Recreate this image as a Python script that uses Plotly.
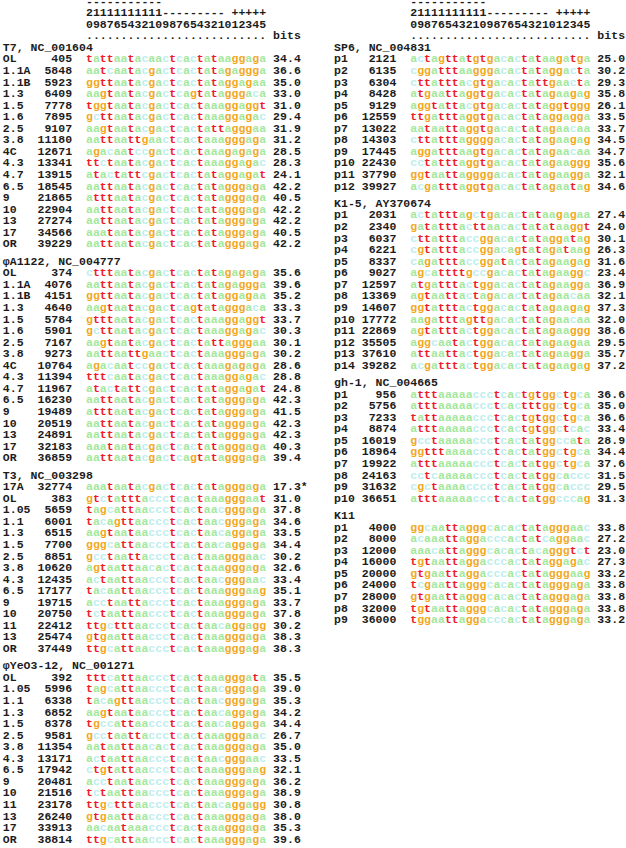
import plotly.graph_objects as go

# ---------------- data ----------------
HEAD_DASH = "-----------"
HEAD_TENS = "21111111111--------- +++++"
HEAD_ONES = "09876543210987654321012345"
HEAD_BITS = ".......................... bits"

T7_title = "T7, NC_001604"
T7_names = ["OL", "1.1A", "1.1B", "1.3", "1.5", "1.6", "2.5", "3.8", "4C", "4.3", "4.7", "6.5", "9", "10", "13", "17", "OR"]
T7_pos = [405, 5848, 5923, 6409, 7778, 7895, 9107, 11180, 12671, 13341, 13915, 18545, 21865, 22904, 27274, 34566, 39229]
T7_bits = [34.4, 36.6, 35.0, 33.0, 31.0, 29.4, 31.9, 31.2, 28.5, 28.3, 24.1, 42.2, 40.5, 42.2, 42.2, 40.5, 42.2]
T7_seqs = [
    "tattaatacaactcactataaggaga", "aatcaatacgactcactatagaggga", "ggttaatacgactcactataggagaa",
    "aagtaatacgactcagtatagggaca", "tggtaatacgactcactaaaggaggt", "gcttaatacgactcactaaaggagac",
    "aagtaatacgactcactattagggaa", "aattaattgaactcactaaagggaga", "agacaatccgactcactaaagagaga",
    "ttctaatacgactcactaaaggagac", "atactattcgactcactataggagat", "aattaatacgactcactatagggaga",
    "atttaatacgactcactatagggaga", "aattaatacgactcactatagggaga", "aattaatacgactcactatagggaga",
    "aaataatacgactcactatagggaga", "aattaatacgactcactatagggaga"]

PA_title = "φA1122, NC_004777"
PA_names = ["OL", "1.1A", "1.1B", "1.3", "1.5", "1.6", "2.5", "3.8", "4C", "4.3", "4.7", "6.5", "9", "10", "13", "17", "OR"]
PA_pos = [374, 4076, 4151, 4640, 5784, 5901, 7167, 9273, 10764, 11394, 11967, 16230, 19489, 20519, 24891, 32183, 36859]
PA_bits = [35.6, 39.6, 35.2, 33.3, 33.7, 30.3, 30.1, 30.2, 28.6, 28.8, 24.8, 42.3, 41.5, 42.3, 42.3, 40.3, 39.4]
PA_seqs = [
    "ctttaatacgactcactatagagaga", "aattaatacgactcactatagaggga", "ggttaatacgactcactataggagaa",
    "aagtaatacgactcagtatagggaca", "gtttaatacgactcactaaaggaggt", "gcttaatacgactcactaaaggagac",
    "aagtaatacgactcactattagggaa", "aattaattgaactcactaaagggaga", "agacaatccgactcactaaagagaga",
    "tttcaatacgactcactaaaggagac", "atactattcgactcactataggagat", "aattaatacgactcactatagggaga",
    "atttaatacgactcactatagggaga", "aattaatacgactcactatagggaga", "aattaatacgactcactatagggaga",
    "aaataatacgactcactatagggaga", "aattaatacgactcagtatagggaga"]

T3_title = "T3, NC_003298"
T3_names = ["17A", "OL", "1.05", "1.1", "1.3", "1.5", "2.5", "3.8", "4.3", "6.5", "9", "10", "11", "13", "OR"]
T3_pos = [32774, 383, 5659, 6001, 6515, 7700, 8851, 10620, 12435, 17177, 19715, 20750, 22412, 25474, 37449]
T3_bits = [17.3, 31.0, 37.8, 34.6, 33.5, 34.4, 30.2, 32.6, 33.4, 35.1, 33.7, 37.8, 30.2, 38.3, 38.3]
T3_notes = ["*", "", "", "", "", "", "", "", "", "", "", "", "", "", ""]
T3_seqs = [
    "aaataatacgactcactatagggaga", "gtctatttaccctcactaaagggaat", "tagcattaaccctcactaacgggaga",
    "tacagttaaccctcactaacgggaga", "aagtaataaccctcactaacaggaga", "gggcattaaccctcactaacaggaga",
    "gcctaattaccctcactaaagggaac", "agtaattaacactcactaaagggaga", "actaattaaccctcactaacgggaac",
    "tacaattaaccctcactaaagggaag", "acctaattaccctcactaaagggaga", "tctaattaaccctcactaaagggaga",
    "ttgctttaaccctcactaacaggagg", "gtgaattaaccctcactaaagggaga", "ttgcattaaccctcactaaagggaga"]

YE_title = "φYeO3-12, NC_001271"
YE_names = ["OL", "1.05", "1.1", "1.3", "1.5", "2.5", "3.8", "4.3", "6.5", "9", "10", "11", "13", "17", "OR"]
YE_pos = [392, 5996, 6338, 6852, 8378, 9581, 11354, 13171, 17942, 20481, 21516, 23178, 26240, 33913, 38814]
YE_bits = [35.5, 39.0, 35.3, 34.2, 34.4, 26.7, 35.0, 33.5, 32.1, 36.2, 38.9, 30.8, 38.0, 35.3, 39.6]
YE_seqs = [
    "tttcattaaccctcactaaagggata", "tagcattaaccctcactaacgggaga", "tacagttaaccctcactaacgggaga",
    "aagtaataaccctcactaacaggaga", "tgccattaaccctcactaacaggaga", "gcctaattaccctcactaaagggaac",
    "aataattaacactcactaaagggaga", "actaattaaccctcactaacgggaac", "ctgtattaaccctcactaaagggaag",
    "acctaataaccctcactaaagggaga", "tctaattaaccctcactaaagggaga", "ttgctttaaccctcactaacaggagg",
    "gtgaattaaccctcactaaagggaga", "aacaataaaccctcactaaagggaga", "ttgcattaaccctcactaaagggaga"]

SP6_title = "SP6, NC_004831"
SP6_names = ["p1", "p2", "p3", "p4", "p5", "p6", "p7", "p8", "p9", "p10", "p11", "p12"]
SP6_pos = [2121, 6135, 6304, 8428, 9129, 12559, 13022, 14303, 17445, 22430, 37790, 39927]
SP6_bits = [25.0, 30.2, 29.3, 35.8, 26.1, 33.5, 33.7, 34.5, 34.7, 35.6, 32.1, 34.6]
SP6_seqs = [
    "actagttatgtgacactataagatga", "cggatttaagggacactataggacta", "cttatttacgtgacactattgaacta",
    "atgaattaggtgacactatagaagag", "aggtattacgtgacactataggtggg", "ttgatttaggtgacactataggagga",
    "aataattaggtgacactatagaacaa", "cttatttaggggacactatagaagag", "aggatttaagtgacactatagaacaa",
    "cctatttaggtgacactatagaaggg", "ggtaattaggggacactatagaagga", "acgatttaggtgacactatagaatag"]

K15_title = "K1-5, AY370674"
K15_names = ["p1", "p2", "p3", "p4", "p5", "p6", "p7", "p8", "p9", "p10", "p11", "p12", "p13", "p14"]
K15_pos = [2031, 2340, 6037, 6221, 8337, 9027, 12597, 13369, 14607, 17772, 22869, 35505, 37610, 39282]
K15_bits = [27.4, 24.0, 30.1, 26.3, 31.6, 23.4, 36.9, 32.1, 37.3, 32.0, 38.6, 29.5, 35.7, 37.2]
K15_seqs = [
    "actatttagctgacactataagagaa", "gatatttacttaacactatataaggt", "cttatttaccggacactataggatag",
    "cgtatttaccggacagtatagataag", "cagatttaccggatactatagaagag", "agcattttgccgacactatagaaggc",
    "atgatttactggacactatagaagga", "agtaattactagacactatagaacaa", "ggtatttactggacactatagaagag",
    "aagatttagttgacactatagaacaa", "agtatttactggacactatagaaggg", "aggcaatactggacactatagaagaa",
    "attaattactggacactatagaagga", "acgatttactggacactatagaagag"]

GH_title = "gh-1, NC_004665"
GH_names = ["p1", "p2", "p3", "p4", "p5", "p6", "p7", "p8", "p9", "p10"]
GH_pos = [956, 5756, 7233, 8874, 16019, 18964, 19922, 24163, 31632, 36651]
GH_bits = [36.6, 35.0, 36.6, 33.4, 28.9, 34.4, 37.6, 31.5, 29.5, 31.3]
GH_seqs = [
    "atttaaaaaccctcactgtggctgca", "atttaaaaaccctcactttggctgca", "tattaaaaaccctcactgtggctgca",
    "atttaaaaaccctcactgtggctcac", "gcctaaaaaccctcactatggccata", "ggtttaaaaccctcactatggctgca",
    "atttaaaaaccctcactatggctgca", "cctcaaaaaccctcactatggcaccc", "cgctaaaacccctcactatggcaccc",
    "atttaaaaaccctcactatggcccag"]

K11_title = "K11"
K11_names = ["p1", "p2", "p3", "p4", "p5", "p6", "p7", "p8", "p9"]
K11_pos = [4000, 8000, 12000, 16000, 20000, 24000, 28000, 32000, 36000]
K11_bits = [33.8, 27.2, 23.0, 27.3, 33.2, 33.8, 33.8, 33.8, 33.2]
K11_seqs = [
    "ggcaattagggcacactatagggaac", "acaaattaggacccactatcaggaac", "aaacattagggcacactacagggtct",
    "tgtaattaggacccactataggagac", "gtgaattaggacccactatagggaag", "tcgaattagggcacactatagggaga",
    "gtgaattagggcacactatagggaga", "tgtaattagggcacactatagggaga", "tggaattaggacccactatagggaga"]

# ---------------- styling / layout ----------------
W, H = 626, 848
CW = 6.93      # px per character column
LH = 11.56     # px per text line
X0 = 2.8       # px: left edge of column 0
Y0 = 48.0      # px: centre of line 0
RIGHT_OFF = (334.0 - X0) / CW
FONT = "Liberation Mono, Courier New, monospace"
FSIZE = 11.5
INK = "#1c1c1c"
BASE_COLORS = {"a": "#a3e89b", "c": "#bdeeee", "g": "#f2a81d", "t": "#ee1b2b"}
BLOCK_GAP = 1.5
HEAD_LINES = [(HEAD_DASH, -4.0), (HEAD_TENS, -3.0), (HEAD_ONES, -2.0), (HEAD_BITS, -1.0)]

columns = [
    dict(off=0.0, num_end=10, seq=12, bits=39,
         blocks=[(T7_title, T7_names, T7_pos, T7_seqs, T7_bits, None),
                 (PA_title, PA_names, PA_pos, PA_seqs, PA_bits, None),
                 (T3_title, T3_names, T3_pos, T3_seqs, T3_bits, T3_notes),
                 (YE_title, YE_names, YE_pos, YE_seqs, YE_bits, None)]),
    dict(off=RIGHT_OFF, num_end=9, seq=11, bits=38,
         blocks=[(SP6_title, SP6_names, SP6_pos, SP6_seqs, SP6_bits, None),
                 (K15_title, K15_names, K15_pos, K15_seqs, K15_bits, None),
                 (GH_title, GH_names, GH_pos, GH_seqs, GH_bits, None),
                 (K11_title, K11_names, K11_pos, K11_seqs, K11_bits, None)]),
]

pts = {k: ([], [], []) for k in ["ink", "a", "c", "g", "t"]}


def put(text, col, line, by_base=False):
    for i, ch in enumerate(text):
        if ch == " ":
            continue
        key = ch if (by_base and ch in BASE_COLORS) else "ink"
        xs, ys, ts = pts[key]
        xs.append(col + i + 0.5)
        ys.append(line)
        ts.append(ch)


for c in columns:
    o = c["off"]
    s = o + c["seq"]
    for htext, hline in HEAD_LINES:
        put(htext, s, hline)
    line = 0.0
    for bi, (title, names, pos, seqs, bits, notes) in enumerate(c["blocks"]):
        if bi > 0:
            line += BLOCK_GAP
        put(title, o, line)
        for i in range(len(names)):
            line += 1
            put(names[i], o, line)
            num = str(pos[i])
            put(num, o + c["num_end"] - len(num), line)
            put(seqs[i], s, line, by_base=True)
            b = f"{bits[i]:.1f}" + (notes[i] if notes else "")
            put(b, o + c["bits"], line)

fig = go.Figure()
for key, (xs, ys, ts) in pts.items():
    color = INK if key == "ink" else BASE_COLORS[key]
    fig.add_trace(go.Scatter(
        x=xs, y=ys, text=ts, mode="text", textposition="middle center",
        textfont=dict(family=FONT, size=FSIZE, color=color, weight="bold"),
        cliponaxis=False, hoverinfo="skip", showlegend=False))

fig.update_layout(
    width=W, height=H, margin=dict(l=0, r=0, t=0, b=0),
    paper_bgcolor="white", plot_bgcolor="white",
    xaxis=dict(range=[-X0 / CW, (W - X0) / CW], visible=False, fixedrange=True),
    yaxis=dict(range=[(H - Y0) / LH, -Y0 / LH], visible=False, fixedrange=True),
    hovermode=False,
)
fig.write_html(
    "out.html",
    config={"displayModeBar": False, "staticPlot": True},
    post_script="document.body.style.margin='0';document.body.style.overflow='hidden';",
)
